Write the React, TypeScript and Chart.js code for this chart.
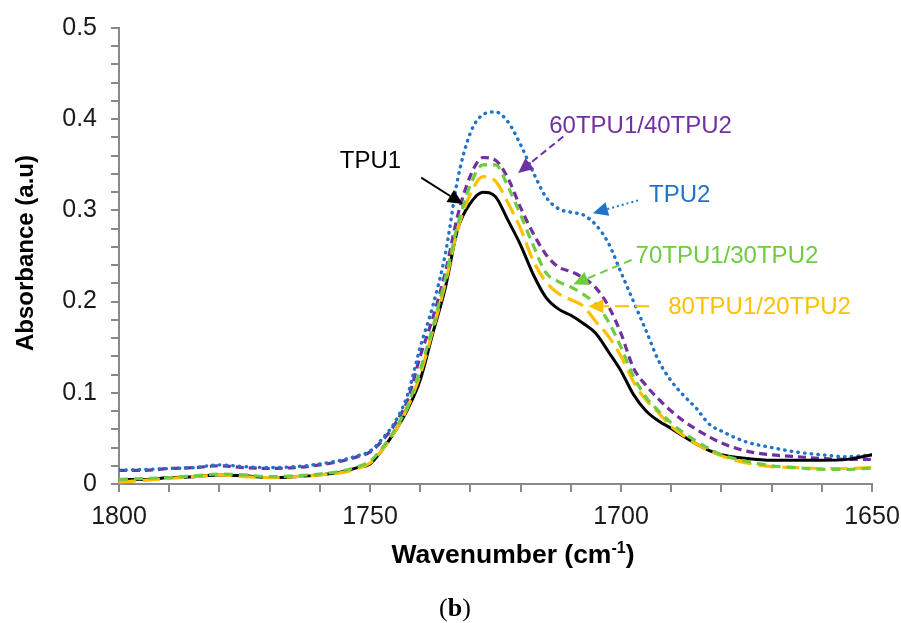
import React, { useEffect, useRef } from 'react';
import { Chart, registerables } from 'chart.js';
Chart.register(...registerables);

// ---- data ----
const wavenumbers = [1800, 1795, 1790, 1785, 1780, 1775, 1770, 1765, 1760, 1755,
  1752.5, 1750, 1747.5, 1745, 1742.5, 1740, 1737.5, 1735, 1732.5, 1730,
  1727.5, 1725, 1722.5, 1720, 1717.5, 1715, 1712.5, 1710, 1707.5, 1705,
  1702.5, 1700, 1697.5, 1695, 1692.5, 1690, 1687.5, 1685, 1682.5, 1680,
  1675, 1670, 1665, 1660, 1655, 1650];

const tpu1 = [0.005, 0.005, 0.007, 0.008, 0.010, 0.009, 0.007, 0.008, 0.010, 0.014,
  0.018, 0.022, 0.038, 0.058, 0.082, 0.114, 0.165, 0.215, 0.280, 0.308,
  0.320, 0.315, 0.289, 0.262, 0.230, 0.205, 0.192, 0.185, 0.176, 0.165,
  0.145, 0.124, 0.098, 0.080, 0.069, 0.061, 0.052, 0.044, 0.037, 0.032,
  0.028, 0.026, 0.026, 0.026, 0.027, 0.032];

const tpu2 = [0.015, 0.016, 0.017, 0.018, 0.021, 0.019, 0.018, 0.019, 0.022, 0.027,
  0.031, 0.036, 0.050, 0.068, 0.098, 0.150, 0.195, 0.252, 0.335, 0.385,
  0.405, 0.408, 0.397, 0.372, 0.342, 0.315, 0.302, 0.298, 0.295, 0.284,
  0.264, 0.232, 0.200, 0.168, 0.135, 0.113, 0.097, 0.083, 0.066, 0.058,
  0.046, 0.040, 0.035, 0.032, 0.030, 0.032];

const blend6040 = [0.015, 0.015, 0.017, 0.018, 0.020, 0.018, 0.017, 0.018, 0.021, 0.026,
  0.030, 0.035, 0.048, 0.066, 0.092, 0.140, 0.182, 0.232, 0.295, 0.338,
  0.358, 0.355, 0.335, 0.303, 0.275, 0.252, 0.238, 0.233, 0.226, 0.215,
  0.195, 0.165, 0.127, 0.108, 0.093, 0.080, 0.069, 0.060, 0.052, 0.045,
  0.036, 0.032, 0.030, 0.028, 0.027, 0.027];

const blend7030 = [0.005, 0.006, 0.007, 0.009, 0.011, 0.010, 0.008, 0.009, 0.011, 0.015,
  0.019, 0.025, 0.040, 0.060, 0.086, 0.125, 0.172, 0.225, 0.285, 0.328,
  0.350, 0.350, 0.326, 0.295, 0.262, 0.232, 0.222, 0.216, 0.208, 0.197,
  0.178, 0.150, 0.118, 0.095, 0.080, 0.067, 0.056, 0.047, 0.039, 0.032,
  0.025, 0.020, 0.018, 0.016, 0.016, 0.0175];

const blend8020 = [0.002, 0.004, 0.006, 0.008, 0.010, 0.008, 0.007, 0.008, 0.010, 0.013,
  0.017, 0.023, 0.038, 0.058, 0.084, 0.120, 0.168, 0.220, 0.280, 0.318,
  0.337, 0.332, 0.308, 0.280, 0.245, 0.222, 0.209, 0.202, 0.195, 0.178,
  0.162, 0.140, 0.112, 0.092, 0.078, 0.063, 0.053, 0.044, 0.037, 0.031,
  0.023, 0.019, 0.018, 0.017, 0.017, 0.018];

// ---- annotations (label text + arrow, in data units) ----
const annoTexts = ['TPU1', '60TPU1/40TPU2', 'TPU2', '70TPU1/30TPU2', '80TPU1/20TPU2'];
const annoColors = ['#000000', '#7030A0', '#1F74C8', '#6DCC3F', '#FFC000'];
const annoAlign = ['center', 'left', 'left', 'left', 'left'];
const annoTextX = [1749.9, 1714.3, 1694.4, 1697.1, 1690.6];
const annoTextY = [0.354, 0.3925, 0.316, 0.25, 0.194];
const arrowFromX = [1739.8, 1711.5, 1696.6, 1697.9, 1694.4];
const arrowFromY = [0.336, 0.381, 0.311, 0.2456, 0.195];
const arrowToX = [1731.5, 1720.5, 1705.6, 1709.5, 1706.5];
const arrowToY = [0.307, 0.341, 0.297, 0.219, 0.195];
const arrowDash = [[], [7, 4], [2, 3], [8, 5], [14, 6]];

const FONT = '"Liberation Sans", Arial, sans-serif';
const SERIF = '"Liberation Serif", "DejaVu Serif", serif';

const pts = (ys: number[]) => wavenumbers.map((x, i) => ({ x, y: ys[i] }));

const overlayPlugin = {
  id: 'overlay',
  afterDatasetsDraw(chart: any) {
    const ctx = chart.ctx;
    const xs = chart.scales.x;
    const ys = chart.scales.y;
    ctx.save();
    for (let i = 0; i < annoTexts.length; i++) {
      const col = annoColors[i];
      ctx.font = `24px ${FONT}`;
      ctx.fillStyle = col;
      ctx.textBaseline = 'middle';
      ctx.textAlign = annoAlign[i];
      ctx.fillText(annoTexts[i], xs.getPixelForValue(annoTextX[i]), ys.getPixelForValue(annoTextY[i]));
      const x1 = xs.getPixelForValue(arrowFromX[i]);
      const y1 = ys.getPixelForValue(arrowFromY[i]);
      const x2 = xs.getPixelForValue(arrowToX[i]);
      const y2 = ys.getPixelForValue(arrowToY[i]);
      const dx = x2 - x1, dy = y2 - y1;
      const len = Math.sqrt(dx * dx + dy * dy);
      const ux = dx / len, uy = dy / len;
      const head = 15, half = 7;
      const bx = x2 - ux * head, by = y2 - uy * head;
      ctx.strokeStyle = col;
      ctx.lineWidth = 2;
      ctx.setLineDash(arrowDash[i]);
      ctx.beginPath();
      ctx.moveTo(x1, y1);
      ctx.lineTo(bx, by);
      ctx.stroke();
      ctx.setLineDash([]);
      ctx.beginPath();
      ctx.moveTo(x2, y2);
      ctx.lineTo(bx - uy * half, by + ux * half);
      ctx.lineTo(bx + uy * half, by - ux * half);
      ctx.closePath();
      ctx.fill();
    }
    // y axis title
    ctx.fillStyle = '#000';
    ctx.textAlign = 'center';
    ctx.textBaseline = 'middle';
    ctx.font = `bold 24px ${FONT}`;
    ctx.save();
    ctx.translate(26, 253);
    ctx.rotate(-Math.PI / 2);
    ctx.fillText('Absorbance (a.u)', 0, 0);
    ctx.restore();

    // x title with superscript
    const main1 = 'Wavenumber (cm';
    const sup = '-1';
    const tail = ')';
    ctx.font = `bold 26.5px ${FONT}`;
    const w1 = ctx.measureText(main1).width;
    const w3 = ctx.measureText(tail).width;
    ctx.font = `bold 16px ${FONT}`;
    const w2 = ctx.measureText(sup).width;
    const total = w1 + w2 + w3;
    let sx = 513 - total / 2;
    const base = 563;
    ctx.textAlign = 'left';
    ctx.textBaseline = 'alphabetic';
    ctx.font = `bold 26.5px ${FONT}`;
    ctx.fillText(main1, sx, base);
    sx += w1;
    ctx.font = `bold 16px ${FONT}`;
    ctx.fillText(sup, sx, base - 10);
    sx += w2;
    ctx.font = `bold 26.5px ${FONT}`;
    ctx.fillText(tail, sx, base);

    // (b)
    ctx.textBaseline = 'alphabetic';
    ctx.font = `26px ${SERIF}`;
    const wa = ctx.measureText('(').width;
    const wc = ctx.measureText(')').width;
    ctx.font = `bold 26px ${SERIF}`;
    const wb = ctx.measureText('b').width;
    let bx0 = 455 - (wa + wb + wc) / 2;
    ctx.textAlign = 'left';
    ctx.font = `26px ${SERIF}`;
    ctx.fillText('(', bx0, 616);
    bx0 += wa;
    ctx.font = `bold 26px ${SERIF}`;
    ctx.fillText('b', bx0, 616);
    bx0 += wb;
    ctx.font = `26px ${SERIF}`;
    ctx.fillText(')', bx0, 616);
    ctx.restore();
  },
};

export default function App() {
  const ref = useRef<HTMLCanvasElement>(null);
  useEffect(() => {
    if (!ref.current) return;
    const gray = '#898989';
    const chart = new Chart(ref.current, {
      type: 'line',
      data: {
        datasets: [
          {
            label: '70TPU1/30TPU2', data: pts(blend7030), borderColor: '#6DCC3F',
            borderWidth: 3.2, borderDash: [9, 6], pointRadius: 0, cubicInterpolationMode: 'monotone',
          },
          {
            label: '80TPU1/20TPU2', data: pts(blend8020), borderColor: '#FFC000',
            borderWidth: 3.2, borderDash: [17, 7], pointRadius: 0, cubicInterpolationMode: 'monotone',
          },
          {
            label: 'TPU1', data: pts(tpu1), borderColor: '#000000',
            borderWidth: 3, pointRadius: 0, cubicInterpolationMode: 'monotone',
          },
          {
            label: 'TPU2', data: pts(tpu2), borderColor: '#1F74C8',
            borderWidth: 3.4, borderDash: [0.5, 6.2], borderCapStyle: 'round', pointRadius: 0,
            cubicInterpolationMode: 'monotone',
          },
          {
            label: '60TPU1/40TPU2', data: pts(blend6040), borderColor: '#7030A0',
            borderWidth: 3.2, borderDash: [8, 5], pointRadius: 0, cubicInterpolationMode: 'monotone',
          },
        ] as any,
      },
      options: {
        animation: false,
        responsive: false,
        events: [],
        layout: { padding: { left: 0, right: 29, top: 28, bottom: 0 } },
        plugins: { legend: { display: false }, tooltip: { enabled: false }, title: { display: false } },
        scales: {
          x: {
            type: 'linear',
            reverse: true,
            min: 1650,
            max: 1800,
            afterFit: (s: any) => { s.height = 139; s.paddingLeft = 0; s.paddingRight = 0; },
            ticks: {
              stepSize: 10,
              autoSkip: false,
              maxRotation: 0,
              padding: 10,
              color: '#1a1a1a',
              font: { family: FONT, size: 25 },
              callback: (v: any) => (Math.round(v) % 50 === 0 ? String(Math.round(v)) : ''),
            },
            grid: { drawOnChartArea: false, drawTicks: true, tickLength: 8, color: gray, lineWidth: 2 },
            border: { display: true, color: gray, width: 2 },
          },
          y: {
            type: 'linear',
            min: 0,
            max: 0.5,
            afterFit: (s: any) => { s.width = 119; s.paddingTop = 0; s.paddingBottom = 0; },
            ticks: {
              stepSize: 0.02,
              autoSkip: false,
              padding: 14,
              color: '#1a1a1a',
              font: { family: FONT, size: 25 },
              callback: (v: any) => {
                const t = v * 10;
                if (Math.abs(t - Math.round(t)) < 1e-6) {
                  const r = Math.round(t);
                  return r === 0 ? '0' : (r / 10).toFixed(1);
                }
                return '';
              },
            },
            grid: { drawOnChartArea: false, drawTicks: true, tickLength: 8, color: gray, lineWidth: 2 },
            border: { display: true, color: gray, width: 2 },
          },
        },
      } as any,
      plugins: [overlayPlugin],
    });
    return () => chart.destroy();
  }, []);
  return (
    <div style={{ position: 'absolute', left: 0, top: 0, width: 901, height: 623, background: '#fff' }}>
      <canvas ref={ref} width={901} height={623} style={{ width: 901, height: 623 }} />
    </div>
  );
}
